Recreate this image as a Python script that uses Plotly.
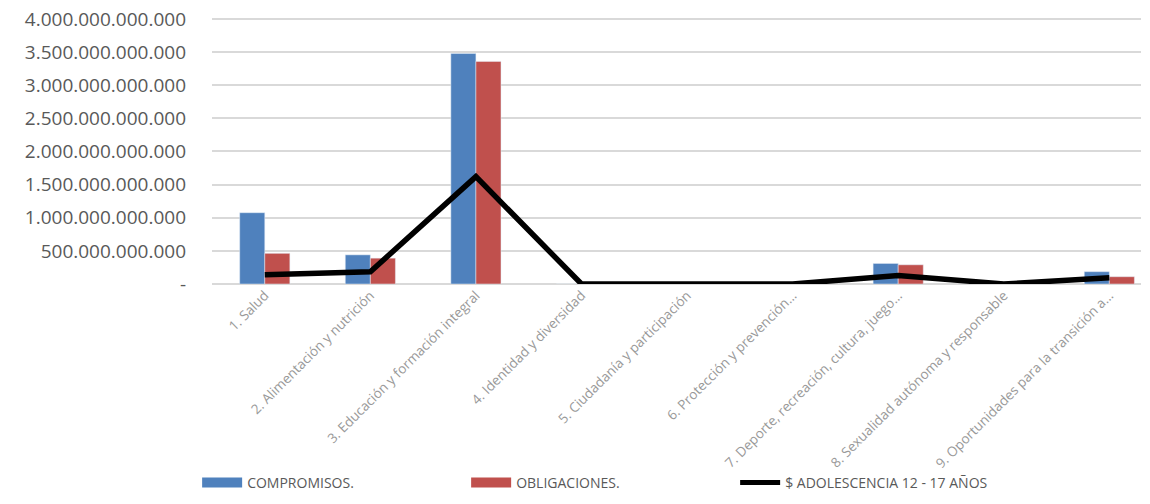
import plotly.graph_objects as go

categories = [
    "1. Salud",
    "2. Alimentación y nutrición",
    "3. Educación y formación integral",
    "4. Identidad y diversidad",
    "5. Ciudadanía y participación",
    "6. Protección y prevención…",
    "7. Deporte, recreación, cultura, juego…",
    "8. Sexualidad autónoma y responsable",
    "9. Oportunidades para la transición a…",
]
compromisos = [1.076e12, 0.44e12, 3.48e12, 0, 0, 0, 0.31e12, 0, 0.186e12]
obligaciones = [0.463e12, 0.39e12, 3.36e12, 0, 0, 0, 0.29e12, 0, 0.11e12]
adolescencia = [0.14e12, 0.185e12, 1.62e12, 0, 0, 0, 0.13e12, 0, 0.095e12]

tick_vals = [0, 5e11, 1e12, 1.5e12, 2e12, 2.5e12, 3e12, 3.5e12, 4e12]
tick_text = ["-", "500.000.000.000", "1.000.000.000.000", "1.500.000.000.000",
             "2.000.000.000.000", "2.500.000.000.000", "3.000.000.000.000",
             "3.500.000.000.000", "4.000.000.000.000"]

names = ["COMPROMISOS.", "OBLIGACIONES.", "$ ADOLESCENCIA 12 - 17 AÑOS"]
BLUE = "#4F81BD"
RED = "#C0504D"

fig = go.Figure()
fig.add_trace(go.Bar(x=categories, y=compromisos, marker_color=BLUE, showlegend=False, name=names[0]))
fig.add_trace(go.Bar(x=categories, y=obligaciones, marker_color=RED, showlegend=False, name=names[1]))
fig.add_trace(go.Scatter(x=categories, y=adolescencia, mode="lines",
                         line=dict(color="black", width=5.5), showlegend=False, name=names[2]))
# legend entries
fig.add_trace(go.Scatter(x=[None], y=[None], mode="lines", line=dict(color=BLUE, width=11), name=names[0]))
fig.add_trace(go.Scatter(x=[None], y=[None], mode="lines", line=dict(color=RED, width=11), name=names[1]))
fig.add_trace(go.Scatter(x=[None], y=[None], mode="lines", line=dict(color="black", width=5), name=names[2]))

fig.update_layout(
    width=1150, height=504,
    margin=dict(l=212, r=9, t=17, b=220, autoexpand=False),
    plot_bgcolor="white", paper_bgcolor="white",
    barmode="group", bargap=0.525, bargroupgap=0,
    font=dict(family="Open Sans", color="#595959"),
    legend=dict(orientation="h", x=-0.016, xanchor="left", y=-0.745, yanchor="middle",
                font=dict(size=14, color="#595959"), entrywidth=214, itemwidth=40,
                bgcolor="rgba(0,0,0,0)"),
)
fig.update_xaxes(type="category", range=[-0.5, 8.3], tickangle=-45, showline=False,
                 ticks="", tickfont=dict(size=13.5, color="#999999"), automargin=False,
                 showgrid=False)
fig.update_yaxes(range=[0, 4.03e12], tickvals=tick_vals, ticktext=tick_text,
                 showgrid=True, gridcolor="#d9d9d9", gridwidth=1.5,
                 zeroline=True, zerolinecolor="#d9d9d9", zerolinewidth=1.5,
                 tickfont=dict(size=19, color="#595959"), ticklabelstandoff=25,
                 ticklabeloverflow="allow", automargin=False)

fig.write_html("out.html", post_script="document.body.style.margin='0';",
               config={"displayModeBar": False})
